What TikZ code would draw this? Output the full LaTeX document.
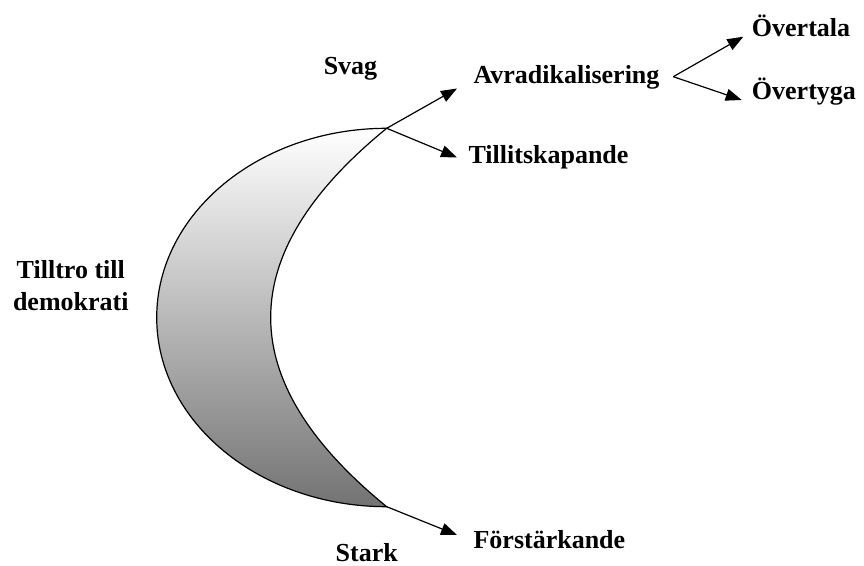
\documentclass[tikz,border=0pt]{standalone}
\usepackage{fontspec}
\setmainfont{Liberation Serif}
\usetikzlibrary{arrows.meta}
\begin{document}
\begin{tikzpicture}[x=0.75pt,y=-0.75pt,
  lbl/.style={font=\fontsize{19.5}{24}\selectfont\bfseries, inner sep=0pt, anchor=base west},
  clbl/.style={lbl, anchor=base},
  conn/.style={line width=0.9pt, -{Triangle[length=12pt,width=9pt]}}]
\useasboundingbox (0,0) rectangle (864,566);
% crescent
\coordinate (T) at (386.7,128.3);
\coordinate (B) at (386.7,506.7);
\shade[top color=white, bottom color=black!55, draw, line width=0.9pt]
  (T) .. controls (259.7,128.3) and (156.7,213.1) .. (156.7,317.5)
      .. controls (156.7,421.9) and (259.7,506.7) .. (B)
      .. controls (232,380.6) and (232,254.4) .. (T) -- cycle;
% labels
\node[clbl] (svag) at (350.5,75) {Svag};
\node[clbl] (stark) at (366.7,561.7) {Stark};
\node[clbl] (tilltro1) at (70.8,278.3) {Tilltro till};
\node[clbl] (tilltro2) at (70.8,311) {demokrati};
\node[lbl] (avr) at (473.3,83.3) {Avradikalisering};
\node[lbl] (till) at (468.3,163.3) {Tillitskapande};
\node[lbl] (forst) at (473.3,548.3) {Förstärkande};
\node[lbl] (overtala) at (751.7,36.7) {Övertala};
\node[lbl] (overtyga) at (751.7,100) {Övertyga};
% arrow ends
\coordinate (tA) at (457,88.5);
\coordinate (tT) at (457,157.5);
\coordinate (tF) at (457,535);
\coordinate (V) at (673.3,76.7);
\coordinate (tO1) at (743.3,36.7);
\coordinate (tO2) at (741.7,100);
\draw[conn] (T) -- (tA);
\draw[conn] (T) -- (tT);
\draw[conn] (B) -- (tF);
\draw[conn] (V) -- (tO1);
\draw[conn] (V) -- (tO2);
\end{tikzpicture}
\end{document}
